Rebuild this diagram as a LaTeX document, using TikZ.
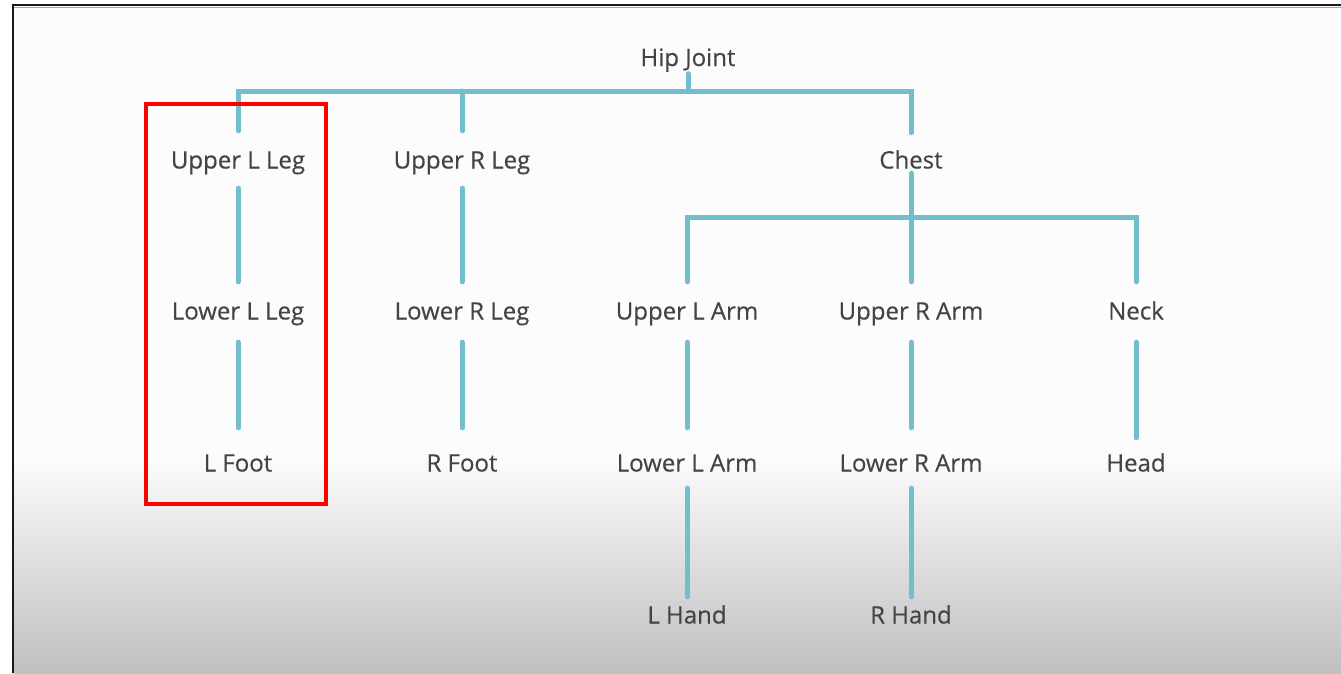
\documentclass[tikz,border=0pt]{standalone}
\usepackage{fontspec}
\setmainfont[FakeBold=0.4]{Open Sans}
\definecolor{conncol}{HTML}{73BDCF}
\definecolor{txtcol}{HTML}{444444}
\definecolor{boxred}{HTML}{FF0000}
\begin{document}
\begin{tikzpicture}[x=1pt,y=-1pt,
  lbl/.style={inner sep=0pt, text height=17pt, text depth=0pt, text=txtcol,
    font=\fontsize{24}{28}\selectfont},
  conn/.style={draw=conncol, line width=5pt, line cap=round},
  bar/.style={draw=conncol, line width=5pt, line cap=round, line join=miter}]
\useasboundingbox (0,0) rectangle (1341,673);
% background
\fill[white!99!black] (0,0) rectangle (1341,673);
\fill[white] (0,0) rectangle (12,673);
\fill[white] (0,0) rectangle (1341,4);
\shade[top color=white!99!black, bottom color=black!25] (13,455) rectangle (1341,673);
% frame
\draw[black!90, line width=2.5pt] (13,673) -- (13,5) -- (1341,5);
\draw[black!35, line width=1pt] (14,7.3) -- (1341,7.3);

% nodes
\node[lbl] (hip) at (688,57.5) {Hip Joint};
\node[lbl] (ull) at (238,160) {Upper L Leg};
\node[lbl] (url) at (462,160) {Upper R Leg};
\node[lbl] (chest) at (911,160) {Chest};
\node[lbl] (lll) at (238,311) {Lower L Leg};
\node[lbl] (lrl) at (462,311) {Lower R Leg};
\node[lbl] (ula) at (687,311) {Upper L Arm};
\node[lbl] (ura) at (911,311) {Upper R Arm};
\node[lbl] (neck) at (1136,311) {Neck};
\node[lbl] (lf) at (238,463) {L Foot};
\node[lbl] (rf) at (462,463) {R Foot};
\node[lbl] (lla) at (687,463) {Lower L Arm};
\node[lbl] (lra) at (911,463) {Lower R Arm};
\node[lbl] (head) at (1136,463) {Head};
\node[lbl] (lh) at (687,615) {L Hand};
\node[lbl] (rh) at (911,615) {R Hand};

\coordinate (b1) at (688,91);
\coordinate (b2) at (911,217);

% hip level
\draw[conn] ([yshift=-7.5pt]hip.south) -- (hip.south |- b1);
\draw[bar] ([yshift=20.5pt]ull.north) -- (ull.north |- b1) -- (chest.north |- b1) -- ([yshift=18.5pt]chest.north);
\draw[conn] ([yshift=20.5pt]url.north) -- (url.north |- b1);
% chest level
\draw[conn] ([yshift=-4.5pt]chest.south) -- ([yshift=20.5pt]ura.north);
\draw[bar] ([yshift=20.5pt]ula.north) -- (ula.north |- b2) -- (neck.north |- b2) -- ([yshift=20.5pt]neck.north);
% legs
\draw[conn] ([yshift=-19.5pt]ull.south) -- ([yshift=20.5pt]lll.north);
\draw[conn] ([yshift=-22.5pt]lll.south) -- ([yshift=26.5pt]lf.north);
\draw[conn] ([yshift=-19.5pt]url.south) -- ([yshift=20.5pt]lrl.north);
\draw[conn] ([yshift=-22.5pt]lrl.south) -- ([yshift=26.5pt]rf.north);
% arms
\draw[conn] ([yshift=-22.5pt]ula.south) -- ([yshift=26.5pt]lla.north);
\draw[conn] ([yshift=-16.5pt]lla.south) -- ([yshift=9.5pt]lh.north);
\draw[conn] ([yshift=-22.5pt]ura.south) -- ([yshift=26.5pt]lra.north);
\draw[conn] ([yshift=-16.5pt]lra.south) -- ([yshift=9.5pt]rh.north);
% neck
\draw[conn] ([yshift=-22.5pt]neck.south) -- ([yshift=16.5pt]head.north);

% highlight box
\draw[boxred, line width=3.5pt] (146,104) rectangle (326,504);
\end{tikzpicture}
\end{document}
